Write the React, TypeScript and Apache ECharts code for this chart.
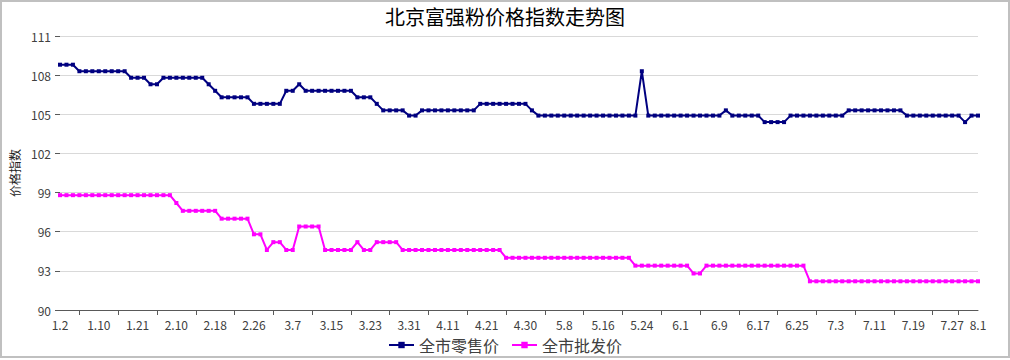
import React, { useEffect, useRef } from "react";
import * as echarts from "echarts";

const titleText = "北京富强粉价格指数走势图";
const yAxisName = "价格指数";
const seriesNames = ["全市零售价", "全市批发价"];

const categories = [
  "1.2", "1.4", "1.5", "1.6", "1.7", "1.9",
  "1.10", "1.12", "1.13", "1.16", "1.18", "1.19",
  "1.21", "1.30", "1.31", "2.2", "2.6", "2.8",
  "2.10", "2.11", "2.13", "2.14", "2.15", "2.17",
  "2.18", "2.20", "2.21", "2.22", "2.23", "2.25",
  "2.26", "2.27", "2.28", "3.1", "3.2", "3.5",
  "3.7", "3.8", "3.9", "3.12", "3.13", "3.14",
  "3.15", "3.16", "3.19", "3.20", "3.21", "3.22",
  "3.23", "3.26", "3.27", "3.28", "3.29", "3.30",
  "3.31", "4.5", "4.6", "4.7", "4.9", "4.10",
  "4.11", "4.12", "4.13", "4.16", "4.18", "4.20",
  "4.21", "4.23", "4.24", "4.25", "4.26", "4.28",
  "4.30", "5.2", "5.3", "5.4", "5.5", "5.7",
  "5.8", "5.9", "5.10", "5.11", "5.14", "5.15",
  "5.16", "5.17", "5.18", "5.21", "5.22", "5.23",
  "5.24", "5.25", "5.28", "5.29", "5.30", "5.31",
  "6.1", "6.4", "6.5", "6.6", "6.7", "6.8",
  "6.9", "6.11", "6.12", "6.13", "6.14", "6.15",
  "6.17", "6.18", "6.19", "6.20", "6.21", "6.22",
  "6.25", "6.26", "6.27", "6.28", "6.29", "7.2",
  "7.3", "7.4", "7.5", "7.6", "7.9", "7.10",
  "7.11", "7.12", "7.13", "7.16", "7.17", "7.18",
  "7.19", "7.20", "7.23", "7.24", "7.25", "7.26",
  "7.27", "7.28", "7.30", "7.31", "8.1",
];

const retail = [
  108.8, 108.8, 108.8, 108.3, 108.3, 108.3, 108.3, 108.3, 108.3, 108.3,
  108.3, 107.8, 107.8, 107.8, 107.3, 107.3, 107.8, 107.8, 107.8, 107.8,
  107.8, 107.8, 107.8, 107.3, 106.8, 106.3, 106.3, 106.3, 106.3, 106.3,
  105.8, 105.8, 105.8, 105.8, 105.8, 106.8, 106.8, 107.3, 106.8, 106.8,
  106.8, 106.8, 106.8, 106.8, 106.8, 106.8, 106.3, 106.3, 106.3, 105.8,
  105.3, 105.3, 105.3, 105.3, 104.9, 104.9, 105.3, 105.3, 105.3, 105.3,
  105.3, 105.3, 105.3, 105.3, 105.3, 105.8, 105.8, 105.8, 105.8, 105.8,
  105.8, 105.8, 105.8, 105.3, 104.9, 104.9, 104.9, 104.9, 104.9, 104.9,
  104.9, 104.9, 104.9, 104.9, 104.9, 104.9, 104.9, 104.9, 104.9, 104.9,
  108.3, 104.9, 104.9, 104.9, 104.9, 104.9, 104.9, 104.9, 104.9, 104.9,
  104.9, 104.9, 104.9, 105.3, 104.9, 104.9, 104.9, 104.9, 104.9, 104.4,
  104.4, 104.4, 104.4, 104.9, 104.9, 104.9, 104.9, 104.9, 104.9, 104.9,
  104.9, 104.9, 105.3, 105.3, 105.3, 105.3, 105.3, 105.3, 105.3, 105.3,
  105.3, 104.9, 104.9, 104.9, 104.9, 104.9, 104.9, 104.9, 104.9, 104.9,
  104.4, 104.9, 104.9,
];

const wholesale = [
  98.8, 98.8, 98.8, 98.8, 98.8, 98.8, 98.8, 98.8, 98.8, 98.8,
  98.8, 98.8, 98.8, 98.8, 98.8, 98.8, 98.8, 98.8, 98.2, 97.6,
  97.6, 97.6, 97.6, 97.6, 97.6, 97.0, 97.0, 97.0, 97.0, 97.0,
  95.8, 95.8, 94.6, 95.2, 95.2, 94.6, 94.6, 96.4, 96.4, 96.4,
  96.4, 94.6, 94.6, 94.6, 94.6, 94.6, 95.2, 94.6, 94.6, 95.2,
  95.2, 95.2, 95.2, 94.6, 94.6, 94.6, 94.6, 94.6, 94.6, 94.6,
  94.6, 94.6, 94.6, 94.6, 94.6, 94.6, 94.6, 94.6, 94.6, 94.0,
  94.0, 94.0, 94.0, 94.0, 94.0, 94.0, 94.0, 94.0, 94.0, 94.0,
  94.0, 94.0, 94.0, 94.0, 94.0, 94.0, 94.0, 94.0, 94.0, 93.4,
  93.4, 93.4, 93.4, 93.4, 93.4, 93.4, 93.4, 93.4, 92.8, 92.8,
  93.4, 93.4, 93.4, 93.4, 93.4, 93.4, 93.4, 93.4, 93.4, 93.4,
  93.4, 93.4, 93.4, 93.4, 93.4, 93.4, 92.2, 92.2, 92.2, 92.2,
  92.2, 92.2, 92.2, 92.2, 92.2, 92.2, 92.2, 92.2, 92.2, 92.2,
  92.2, 92.2, 92.2, 92.2, 92.2, 92.2, 92.2, 92.2, 92.2, 92.2,
  92.2, 92.2, 92.2,
];

const yMin = 90;
const yMax = 111;
const yInterval = 3;

const FONT = "'Noto Sans CJK SC', 'Noto Sans', sans-serif";

export default function App() {
  const ref = useRef<HTMLDivElement>(null);

  useEffect(() => {
    document.body.style.margin = "0";
    const chart = echarts.init(ref.current!, null, { renderer: "svg" });
    const last = categories.length - 1;
    chart.setOption({
      animation: false,
      backgroundColor: "#ffffff",
      textStyle: { fontFamily: FONT },
      title: {
        text: titleText,
        left: "center",
        top: 1,
        textStyle: { fontSize: 20, fontWeight: "normal", color: "#000", fontFamily: FONT },
      },
      legend: {
        bottom: 0,
        left: "center",
        itemWidth: 25,
        itemHeight: 8,
        itemGap: 12,
        textStyle: { fontSize: 16, color: "#404040", fontFamily: FONT },
        data: seriesNames,
      },
      grid: {
        left: 60,
        right: 32,
        top: 36,
        bottom: 48,
        containLabel: false,
        outerBoundsMode: "none",
      },
      xAxis: {
        type: "category",
        data: categories,
        boundaryGap: false,
        axisLine: { lineStyle: { color: "#595959", width: 1 } },
        axisTick: {
          show: true,
          length: 5,
          interval: (i: number) => (i % 6 === 3 && i < 140) || i === 139,
          lineStyle: { color: "#595959" },
        },
        axisLabel: {
          interval: (i: number) => i % 6 === 0 || i === last,
          fontSize: 12,
          color: "#404040",
          margin: 8,
          fontFamily: FONT,
        },
        splitLine: { show: false },
      },
      yAxis: {
        type: "value",
        min: yMin,
        max: yMax,
        interval: yInterval,
        name: yAxisName,
        nameLocation: "middle",
        nameGap: 40,
        nameTextStyle: { fontSize: 12, color: "#222", fontFamily: FONT },
        axisLine: { show: false },
        axisTick: { show: true, length: 5, lineStyle: { color: "#595959" } },
        axisLabel: { fontSize: 12, color: "#404040", margin: 9, fontFamily: FONT },
        splitLine: { lineStyle: { color: "#d9d9d9", width: 1 } },
      },
      series: [
        {
          name: seriesNames[0],
          type: "line",
          data: retail,
          symbol: "rect",
          symbolSize: 4,
          lineStyle: { color: "#000080", width: 2 },
          itemStyle: { color: "#000080" },
        },
        {
          name: seriesNames[1],
          type: "line",
          data: wholesale,
          symbol: "rect",
          symbolSize: 4,
          lineStyle: { color: "#ff00ff", width: 2 },
          itemStyle: { color: "#ff00ff" },
        },
      ],
    });
    return () => chart.dispose();
  }, []);

  return (
    <div style={{ position: "relative", width: 1010, height: 358, background: "#fff" }}>
      <div ref={ref} style={{ width: 1010, height: 358 }} />
      <div
        style={{
          position: "absolute",
          left: 0,
          top: 0,
          right: 0,
          bottom: 0,
          border: "2px solid #c0c0c0",
          boxSizing: "border-box",
          pointerEvents: "none",
        }}
      />
    </div>
  );
}
